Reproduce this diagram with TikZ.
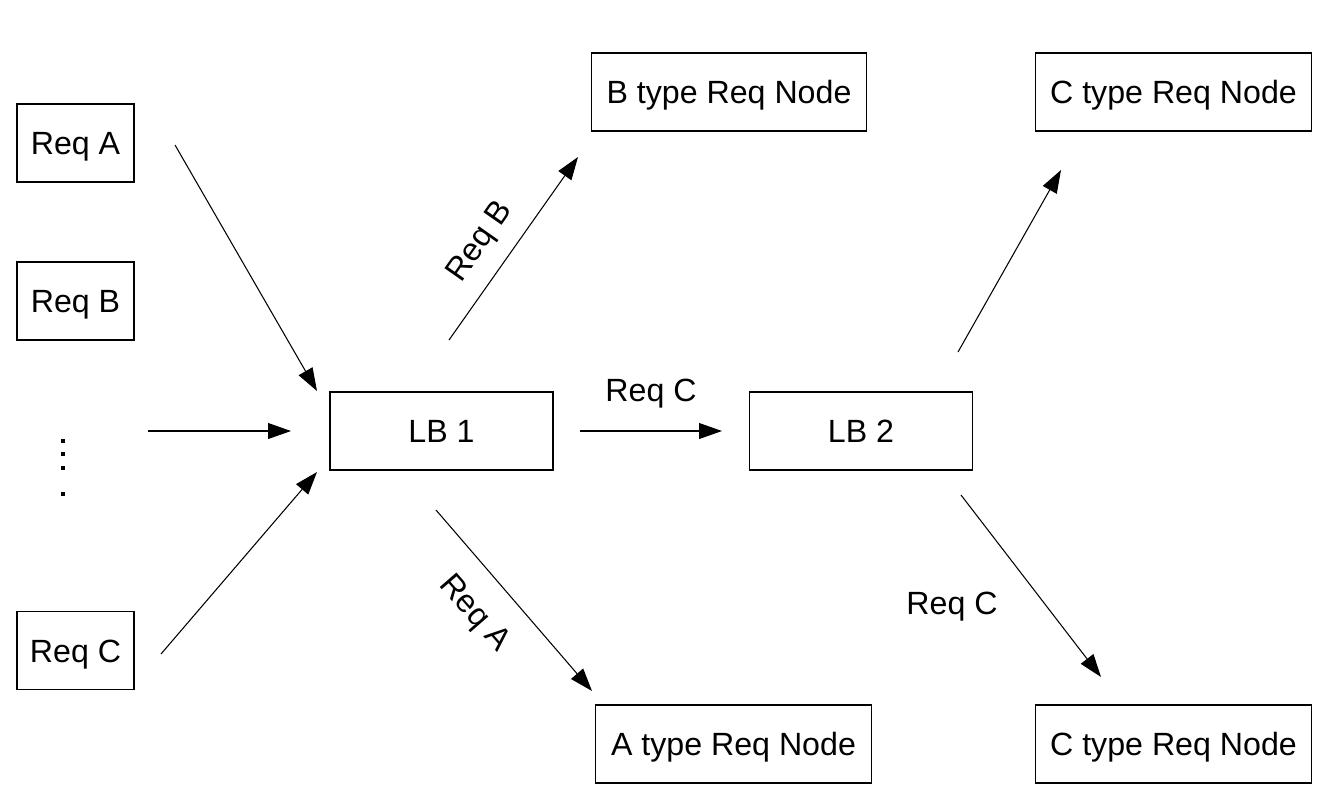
\documentclass[tikz,border=0pt]{standalone}
\usepackage{fontspec}
\setmainfont{Liberation Sans}
\usetikzlibrary{arrows.meta}
\begin{document}
\begin{tikzpicture}[x=0.02cm,y=-0.02cm,
  txt/.style={font=\fontsize{18.3}{22}\selectfont,text height=13.6pt,text depth=0pt},
  box/.style={draw,txt,line width=0.6pt,inner sep=0pt,minimum height=1.56cm},
  small/.style={box,minimum width=2.34cm},
  lb/.style={box,minimum width=4.46cm},
  big/.style={box,minimum width=5.51cm},
  arr/.style={line width=0.6pt,-{Triangle[length=13pt,width=9pt]}},
  lbl/.style={txt,inner sep=0pt},
  dotsq/.style={fill,inner sep=0pt,minimum size=4*0.02cm}]
\useasboundingbox (0,0) rectangle (1323,799);
\node[small] (reqa) at (75.5,143) {Req A};
\node[small] (reqb) at (75.5,301) {Req B};
\node[small] (reqc) at (75.5,650.5) {Req C};
\node[lb] (lb1) at (441.5,431) {LB 1};
\node[lb] (lb2) at (861,431) {LB 2};
\node[big] (bnode) at (729,92) {B type Req Node};
\node[big] (ctop) at (1173.5,92) {C type Req Node};
\node[big] (anode) at (733.5,744) {A type Req Node};
\node[big] (cbot) at (1173.5,744) {C type Req Node};
\node[dotsq] (d1) at (63,441) {};
\node[dotsq] (d2) at (63,454) {};
\node[dotsq] (d3) at (63,468) {};
\node[dotsq] (d4) at (63,494) {};
\coordinate (a1s) at (175,145); \coordinate (a1e) at (317,391);
\coordinate (a2s) at (148,431); \coordinate (a2e) at (291,431);
\coordinate (a3s) at (161,654); \coordinate (a3e) at (317,472);
\coordinate (a4s) at (449,340); \coordinate (a4e) at (578,157);
\coordinate (a5s) at (436,510); \coordinate (a5e) at (592,691);
\coordinate (a6s) at (580,431); \coordinate (a6e) at (722,431);
\coordinate (a7s) at (958,352); \coordinate (a7e) at (1061,170);
\coordinate (a8s) at (961,495); \coordinate (a8e) at (1101,677);
\draw[arr] (a1s) -- (a1e);
\draw[arr] (a2s) -- (a2e);
\draw[arr] (a3s) -- (a3e);
\draw[arr] (a4s) -- (a4e);
\draw[arr] (a5s) -- (a5e);
\draw[arr] (a6s) -- (a6e);
\draw[arr] (a7s) -- (a7e);
\draw[arr] (a8s) -- (a8e);
\node[lbl,rotate=55] (lreqb) at (477,240) {Req B};
\node[lbl,rotate=-49] (lreqa) at (477,611) {Req A};
\node[lbl] (lreqc1) at (651,390) {Req C};
\node[lbl] (lreqc2) at (952,603) {Req C};
\end{tikzpicture}
\end{document}
